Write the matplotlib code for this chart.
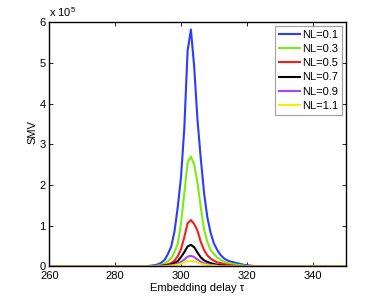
import matplotlib
matplotlib.use("Agg")
import matplotlib.pyplot as plt
from matplotlib.ticker import FuncFormatter

plt.rcParams['font.family'] = ['Liberation Sans', 'DejaVu Sans']
plt.rcParams['mathtext.fontset'] = 'custom'
plt.rcParams['mathtext.rm'] = 'Liberation Sans'
plt.rcParams['mathtext.it'] = 'Liberation Sans:italic'

# Embedding delay (tau): 260, 288..322, 350
tau = [260] + list(range(288, 323)) + [350]

# SMV values in units of 1e5 (same order as tau)
nl01 = [0,
        0, 0.005, 0.01, 0.02, 0.03, 0.05, 0.09, 0.16, 0.3, 0.48,
        0.85, 1.45, 2.2, 3.4, 5.3, 5.82, 4.9, 3.6, 2.65, 1.8,
        1.2, 0.82, 0.56, 0.4, 0.28, 0.2, 0.15, 0.12, 0.1, 0.08,
        0.06, 0.04, 0.03, 0.02, 0.01,
        0]
nl03 = [0,
        0, 0, 0, 0, 0.01, 0.02, 0.04, 0.07, 0.12, 0.2,
        0.35, 0.55, 1.05, 1.8, 2.55, 2.70, 2.5, 2.05, 1.45, 0.9,
        0.6, 0.4, 0.3, 0.22, 0.16, 0.12, 0.09, 0.07, 0.05, 0.04,
        0.03, 0.02, 0.01, 0, 0,
        0]
nl05 = [0,
        0, 0, 0, 0, 0, 0.01, 0.02, 0.03, 0.05, 0.08,
        0.14, 0.25, 0.42, 0.72, 1.06, 1.14, 1.04, 0.88, 0.6, 0.4,
        0.27, 0.19, 0.14, 0.1, 0.08, 0.06, 0.04, 0.03, 0.02, 0.01,
        0, 0, 0, 0, 0,
        0]
nl07 = [0,
        0, 0, 0, 0, 0, 0, 0.01, 0.02, 0.03, 0.05,
        0.08, 0.13, 0.23, 0.35, 0.49, 0.53, 0.47, 0.34, 0.22, 0.15,
        0.11, 0.08, 0.06, 0.04, 0.03, 0.02, 0.01, 0, 0, 0,
        0, 0, 0, 0, 0,
        0]
nl09 = [0,
        0, 0, 0, 0, 0, 0, 0, 0.01, 0.015, 0.025,
        0.04, 0.07, 0.11, 0.17, 0.24, 0.26, 0.23, 0.17, 0.11, 0.075,
        0.05, 0.04, 0.03, 0.02, 0.01, 0, 0, 0, 0, 0,
        0, 0, 0, 0, 0,
        0]
nl11 = [0,
        0, 0, 0, 0, 0, 0, 0, 0, 0.01, 0.015,
        0.025, 0.04, 0.065, 0.1, 0.13, 0.14, 0.125, 0.095, 0.065, 0.045,
        0.03, 0.02, 0.015, 0.01, 0, 0, 0, 0, 0, 0,
        0, 0, 0, 0, 0,
        0]

series = [nl01, nl03, nl05, nl07, nl09, nl11]
labels = ['NL=0.1', 'NL=0.3', 'NL=0.5', 'NL=0.7', 'NL=0.9', 'NL=1.1']
colors = ['#2a3cff', '#77ee11', '#ff1a1a', '#000000', '#b040ff', '#f5f000']
scale = 1e5

fig = plt.figure(figsize=(3.82, 3.0), dpi=100)
ax = fig.add_axes([0.129, 0.112, 0.776, 0.814])

for vals, lab, col in zip(series, labels, colors):
    ax.plot(tau, [v * scale for v in vals], color=col, lw=1.5, label=lab)

ax.set_xlim(260, 350)
ax.set_ylim(0, 6e5)
ax.set_xticks([260, 280, 300, 320, 340])
ax.set_yticks([0, 1e5, 2e5, 3e5, 4e5, 5e5, 6e5])
ax.yaxis.set_major_formatter(FuncFormatter(lambda v, p: f"{v/scale:g}"))
ax.tick_params(direction='in', top=True, right=True, labelsize=8, length=3, width=0.6)
ax.tick_params(axis='x', pad=3)
ax.tick_params(axis='y', pad=2.5)
for s in ax.spines.values():
    s.set_linewidth(1.0)

ax.set_xlabel('Embedding delay τ', fontsize=8)
ax.xaxis.set_label_coords(0.5, -0.068)
ax.set_ylabel('SMV', fontsize=8)
ax.yaxis.set_label_coords(-0.057, 0.55)
ax.yaxis.label.set_va('center')
ax.text(0.0, 1.012, 'x 10$^5$', transform=ax.transAxes, fontsize=8, ha='left', va='bottom')

leg = ax.legend(loc='upper right', fontsize=8, frameon=True, fancybox=False,
                edgecolor='#888888', handlelength=1.95, handletextpad=0.15,
                labelspacing=0.38, borderpad=0.35, borderaxespad=0.33)
leg.get_frame().set_linewidth(0.8)

fig.savefig('out.png', dpi=100)
